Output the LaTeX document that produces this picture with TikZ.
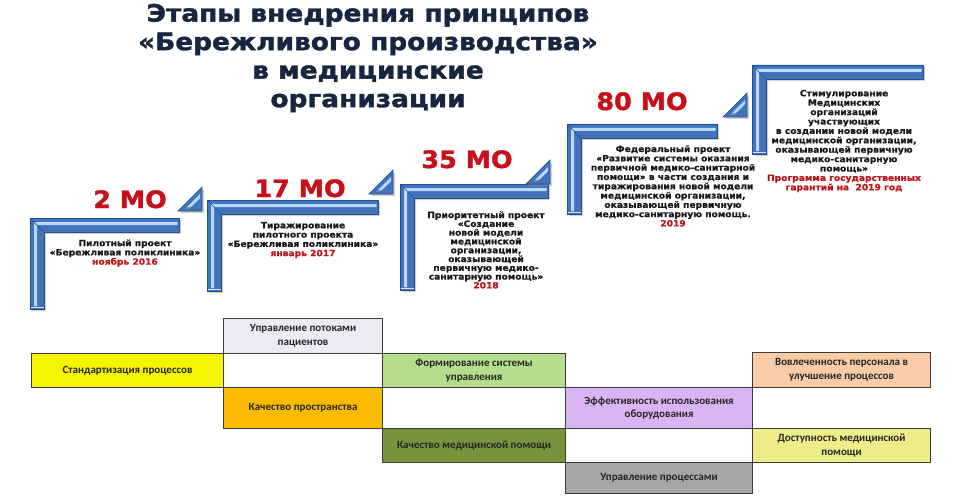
\documentclass[tikz,border=0pt]{standalone}
\usepackage{fontspec}
\setmainfont{DejaVu Sans}
\newfontfamily\heavyfamily{DejaVu Sans Bold}[FakeBold=1.4]
\newfontfamily\capfamily{DejaVu Sans Bold}[FakeBold=0.8]
\newfontfamily\cellfamily{Carlito}
\definecolor{navy}{HTML}{17263F}
\definecolor{mored}{HTML}{C8101A}
\definecolor{datered}{HTML}{C0141C}
\definecolor{bblue}{HTML}{3E74C2}
\definecolor{bdark}{HTML}{22508F}
\definecolor{blight}{HTML}{BCD8F5}
\definecolor{cellline}{HTML}{3A3A3A}
\definecolor{cupr}{HTML}{ECEAF3}
\definecolor{cstand}{HTML}{F5F500}
\definecolor{cform}{HTML}{B5DD8C}
\definecolor{cvovl}{HTML}{F9CBA7}
\definecolor{ckpr}{HTML}{FBBB00}
\definecolor{ceff}{HTML}{D8B4F2}
\definecolor{ckmed}{HTML}{77933C}
\definecolor{cdost}{HTML}{EEEE88}
\definecolor{cuprp}{HTML}{A6A6A6}
\newcommand{\stepbracket}[4]{%
  \fill[black!40,opacity=.45] ({#1+2},{#2+2}) -- ({#3+2},{#2+2}) -- ({#3+2},{#2+16}) -- ({#1+16},{#2+16}) -- ({#1+16},{#4+2}) -- ({#1+2},{#4+2}) -- cycle;
  \fill[bblue] (#1,#2) -- (#3,#2) -- (#3,{#2+14}) -- ({#1+14},{#2+14}) -- ({#1+14},#4) -- (#1,#4) -- cycle;
  \fill[blight] ({#1+4},{#2+4}) -- ({#3-1.5},{#2+4}) -- ({#3-1.5},{#2+7}) -- ({#1+7},{#2+7}) -- ({#1+7},{#4-3}) -- ({#1+4},{#4-3}) -- cycle;
  \fill[bdark!80,opacity=.6] ({#1+14},{#2+10}) -- ({#3},{#2+10}) -- ({#3},{#2+14}) -- ({#1+14},{#2+14}) -- cycle;
  \fill[bdark!80,opacity=.6] ({#1+10},{#2+14}) -- ({#1+14},{#2+14}) -- ({#1+14},{#4}) -- ({#1+10},{#4}) -- cycle;
  \draw[blight!70,line width=.6] (#1,{#4-2}) -- ({#1+14},{#4-2});
  \draw[bdark,line width=.5] (#1,#2) -- ({#1+14},{#2+14});
  \draw[bdark,line width=.7] (#1,#2) -- (#3,#2) -- (#3,{#2+14}) -- ({#1+14},{#2+14}) -- ({#1+14},#4) -- (#1,#4) -- cycle;
}
\newcommand{\steptri}[2]{%
  \fill[black!40,opacity=.45] ({#1-22},{#2+2}) -- ({#1+2},{#2+2}) -- ({#1+2},{#2-22}) -- cycle;
  \fill[bblue] ({#1-24},#2) -- (#1,#2) -- (#1,{#2-24}) -- cycle;
  \fill[blight] ({#1-17},{#2-2}) -- ({#1-2},{#2-17}) -- ({#1-2},{#2-13}) -- ({#1-12},{#2-3}) -- cycle;
  \fill[bdark!80,opacity=.6] ({#1-24},#2) -- (#1,#2) -- (#1,{#2-4}) -- ({#1-20},{#2-4}) -- cycle;
  \draw[bdark,line width=.7] ({#1-24},#2) -- (#1,#2) -- (#1,{#2-24}) -- cycle;
}
\begin{document}
\begin{tikzpicture}[x=1pt,y=-1pt,
  titlestyle/.style={text=navy,align=center,inner sep=0pt,xscale=1.1,transform shape,font=\heavyfamily\fontsize{24}{28.5}\selectfont},
  mocount/.style={text=mored,inner sep=0pt,xscale=1.06,transform shape,font=\heavyfamily\fontsize{24}{28}\selectfont},
  captext/.style={text=black!90,align=center,inner sep=0pt,xscale=1.06,transform shape,font=\capfamily\fontsize{8.6}{9.3}\selectfont},
  cell/.style={draw=cellline,line width=1.1pt,anchor=north west,inner sep=0pt,align=center,text=black!85,font=\cellfamily\fontsize{11}{13.5}\selectfont\bfseries},
  dateline/.style={text=datered}]
\useasboundingbox (0,0) rectangle (960,497);
\fill[white] (0,0) rectangle (960,497);

% title
\node[titlestyle] (title) at (368,58) {Этапы внедрения принципов\\«Бережливого производства»\\в медицинские\\организации};

% staircase brackets
\stepbracket{30}{218}{179}{309}
\stepbracket{207}{200}{378}{291}
\stepbracket{400}{184}{548}{290}
\stepbracket{567}{124}{717}{214}
\stepbracket{752}{65}{923}{154}
\steptri{202}{211}
\steptri{393}{194}
\steptri{550}{184}
\steptri{747}{117}

% counts
\node[mocount,anchor=base] (mo2) at (130,208) {2 МО};
\node[mocount,anchor=base] (mo17) at (300,197) {17 МО};
\node[mocount,anchor=base] (mo35) at (467,168) {35 МО};
\node[mocount,anchor=base] (mo80) at (642,110) {80 МО};

% captions
\node[captext] (cap1) at (125,253) {Пилотный проект\\«Бережливая поликлиника»\\\textcolor{datered}{ноябрь 2016}};
\node[captext] (cap2) at (303,240) {Тиражирование\\пилотного проекта\\«Бережливая поликлиника»\\\textcolor{datered}{январь 2017}};
\node[captext,font=\capfamily\fontsize{8.6}{8.8}\selectfont] (cap3) at (486,250) {Приоритетный проект\\«Создание\\новой модели\\медицинской\\организации,\\оказывающей\\первичную медико-\\санитарную помощь»\\\textcolor{datered}{2018}};
\node[captext] (cap4) at (673,186) {Федеральный проект\\«Развитие системы оказания\\первичной медико-санитарной\\помощи» в части создания и\\тиражирования новой модели\\медицинской организации,\\оказывающей первичную\\медико-санитарную помощь.\\\textcolor{datered}{2019}};
\node[captext,font=\capfamily\fontsize{8.6}{9.4}\selectfont] (cap5) at (844,141) {Стимулирование\\Медицинских\\организаций\\участвующих\\в создании новой модели\\медицинской организации,\\оказывающей первичную\\медико-санитарную\\помощь»\\\textcolor{datered}{Программа государственных}\\\textcolor{datered}{гарантий на~~2019 год}};

% table
\node[cell,fill=cupr,minimum width=159pt,minimum height=35pt] (uprpot) at (223,318) {Управление потоками\\пациентов};
\node[cell,fill=cstand,minimum width=192pt,minimum height=34pt] (stand) at (31,353) {Стандартизация процессов};
\node[cell,fill=cform,minimum width=183pt,minimum height=34pt] (form) at (382,353) {Формирование системы\\управления};
\node[cell,fill=cvovl,minimum width=178pt,minimum height=35pt] (vovl) at (752,352) {Вовлеченность персонала в\\улучшение процессов};
\node[cell,fill=ckpr,minimum width=159pt,minimum height=41pt] (kpr) at (223,387) {Качество пространства};
\node[cell,fill=ceff,minimum width=187pt,minimum height=41pt] (eff) at (565,387) {Эффективность использования\\оборудования};
\node[cell,fill=ckmed,minimum width=183pt,minimum height=34pt] (kmed) at (382,428) {Качество медицинской помощи};
\node[cell,fill=cdost,minimum width=178pt,minimum height=34pt] (dost) at (752,428) {Доступность медицинской\\помощи};
\node[cell,fill=cuprp,minimum width=187pt,minimum height=31pt] (uprp) at (565,462) {Управление процессами};
\end{tikzpicture}
\end{document}
